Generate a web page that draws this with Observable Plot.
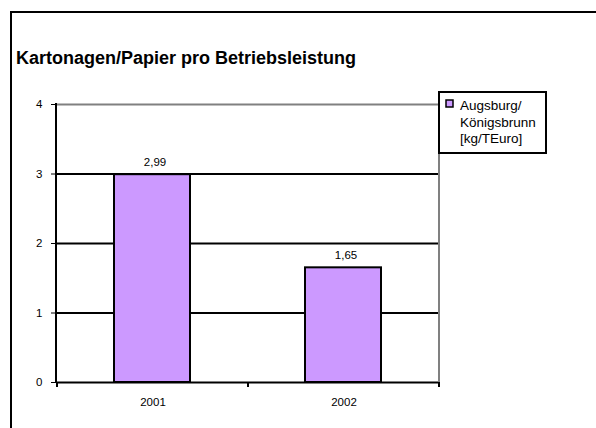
<!DOCTYPE html>
<html>
<head>
<meta charset="utf-8">
<script src="https://cdn.jsdelivr.net/npm/d3@7"></script>
<script src="https://cdn.jsdelivr.net/npm/@observablehq/plot@0.6"></script>
<style>
  html, body { margin: 0; padding: 0; background: #fff; }
  #chart { position: relative; width: 596px; height: 428px; overflow: hidden; }
</style>
</head>
<body>
<div id="chart"></div>
<script>
const years = ["2001", "2002"];
const values = [2.99, 1.65];
const yTicks = [0, 1, 2, 3, 4];
const titleText = "Kartonagen/Papier pro Betriebsleistung";
const legendLines = ["Augsburg/", "Königsbrunn", "[kg/TEuro]"];

const data = years.map((y, i) => ({year: y, value: values[i]}));
const fmt = v => v.toFixed(2).replace(".", ",");
const FONT = "'Liberation Sans', Arial, sans-serif";

const plot = Plot.plot({
  width: 596,
  height: 428,
  marginLeft: 56,
  marginRight: 157,
  marginTop: 104,
  marginBottom: 46,
  style: {fontFamily: FONT, fontSize: "11.5px", color: "#000", background: "transparent"},
  x: {domain: years, padding: 0, label: null, tickSize: 0, tickPadding: 15},
  y: {domain: [0, 4], ticks: yTicks, label: null, tickSize: 5, tickPadding: 9, tickFormat: d => String(d)},
  marks: [
    Plot.ruleY([4], {stroke: "#808080", strokeWidth: 2}),
    Plot.ruleY([1, 2, 3], {stroke: "#000", strokeWidth: 2}),
    Plot.barY(data, {x: "year", y: "value", fill: "#CC99FF", stroke: "#000", strokeWidth: 2, insetLeft: 57, insetRight: 58}),
    Plot.text(data, {x: "year", y: "value", text: d => fmt(d.value), lineAnchor: "bottom", dy: -9, dx: 2, fontSize: 11.5, fill: "#000"}),
    Plot.ruleY([0], {stroke: "#000", strokeWidth: 2})
  ]
});

document.getElementById("chart").appendChild(plot);

const svg = d3.select(plot);
const xs = plot.scale("x");
const ys = plot.scale("y");
const x0 = 56, x1 = 596 - 157;
const yTop = ys.apply(4), yBot = ys.apply(0);

// plot area right border (gray)
svg.append("line").attr("x1", x1).attr("x2", x1).attr("y1", yTop).attr("y2", yBot)
  .attr("stroke", "#808080").attr("stroke-width", 2);
// left axis line
svg.append("line").attr("x1", x0).attr("x2", x0).attr("y1", yTop - 1).attr("y2", yBot + 1)
  .attr("stroke", "#000").attr("stroke-width", 2);
// category boundary ticks
const bounds = [xs.apply(years[0]), xs.apply(years[1]), xs.apply(years[1]) + xs.bandwidth];
bounds.forEach(b => {
  svg.append("line").attr("x1", b).attr("x2", b).attr("y1", yBot).attr("y2", yBot + 5)
    .attr("stroke", "#000").attr("stroke-width", 2);
});

// outer chart frame
svg.append("rect").attr("x", 11).attr("y", 12).attr("width", 700).attr("height", 600)
  .attr("fill", "none").attr("stroke", "#000").attr("stroke-width", 2);

// title
svg.append("text").attr("x", 16).attr("y", 64).attr("text-anchor", "start")
  .attr("font-family", FONT).attr("font-weight", "bold").attr("font-size", 18)
  .attr("fill", "#000").text(titleText);

// legend
const lg = svg.append("g").attr("text-anchor", "start");
lg.append("rect").attr("x", 439).attr("y", 92).attr("width", 107).attr("height", 61)
  .attr("fill", "#fff").attr("stroke", "#000").attr("stroke-width", 2);
lg.append("rect").attr("x", 446).attr("y", 100).attr("width", 7).attr("height", 7)
  .attr("fill", "#CC99FF").attr("stroke", "#000").attr("stroke-width", 1.5);
legendLines.forEach((t, i) => {
  lg.append("text").attr("x", 460).attr("y", 110 + i * 16.5).attr("text-anchor", "start")
    .attr("font-family", FONT).attr("font-size", 13.5).attr("fill", "#000").text(t);
});
</script>
</body>
</html>
